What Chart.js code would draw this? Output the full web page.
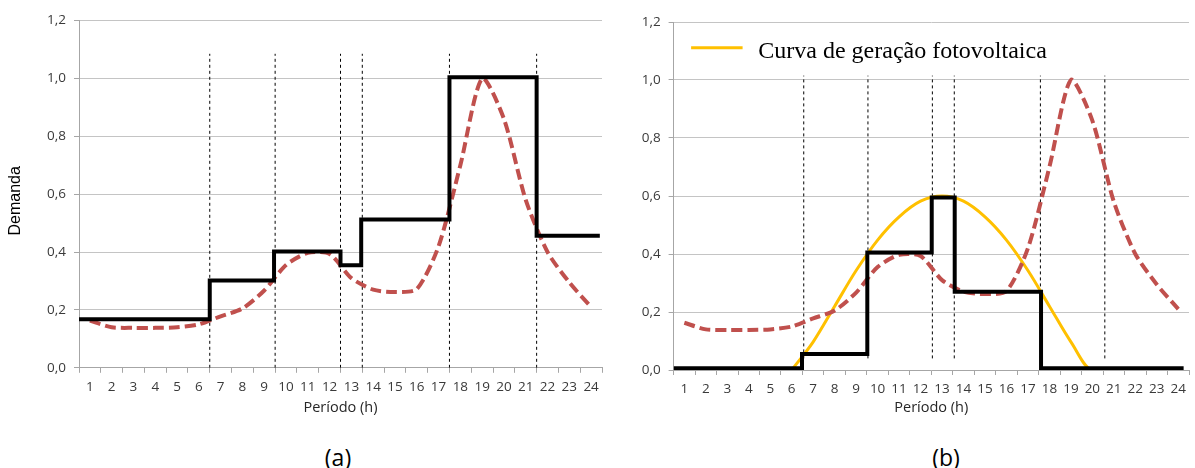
<!DOCTYPE html>
<html>
<head>
<meta charset="utf-8">
<script src="https://cdn.jsdelivr.net/npm/chart.js@4.4.1/dist/chart.umd.min.js"></script>
<style>
    body { margin: 0; background: #fff; width: 1195px; height: 468px; overflow: hidden; position: relative; }
    canvas { position: absolute; top: 0; }
    #graficoA { left: 0; }
    #graficoB { left: 600px; }
    .legenda { position: absolute; top: 442px; width: 100px; text-align: center;
               font-family: 'Open Sans', sans-serif; font-size: 23px; line-height: 30px; color: #000; }
</style>
</head>
<body>
<canvas id="graficoA" width="612" height="421"></canvas>
<canvas id="graficoB" width="595" height="421"></canvas>
<div class="legenda" style="left:288px">(a)</div>
<div class="legenda" style="left:896px">(b)</div>
<script>
// Dados (demanda normalizada por hora)
const horas = [1, 2, 3, 4, 5, 6, 7, 8, 9, 10, 11, 12, 13, 14, 15, 16, 17, 18, 19, 20, 21, 22, 23, 24];
const demanda = [0.163, 0.14, 0.138, 0.138, 0.14, 0.15, 0.178, 0.205, 0.267, 0.355, 0.397, 0.393,
                 0.31, 0.27, 0.262, 0.272, 0.42, 0.70, 1.0, 0.86, 0.58, 0.40, 0.295, 0.21];
const geracaoPV = [null, null, null, null, null, 0, 0.097, 0.22, 0.343, 0.448, 0.528, 0.582,
                   0.6, 0.582, 0.528, 0.448, 0.343, 0.22, 0.097, 0, 0, 0, 0, 0];

// Tarifa em degraus (a): inicio de cada patamar e valor
const degrauA_x = [0.5, 6.5, 9.45, 12.5, 13.45, 17.5, 21.5, 24.4];
const degrauA_y = [0.168, 0.302, 0.402, 0.354, 0.512, 1.004, 0.456, 0.456];
// Tarifa em degraus (b)
const degrauB_x = [0.5, 6.48, 9.52, 12.52, 13.59, 17.61, 24.25];
const degrauB_y = [0.006, 0.055, 0.405, 0.595, 0.27, 0.006, 0.006];

// Linhas verticais tracejadas (limites dos postos)
const limitesA = [6.5, 9.5, 12.5, 13.5, 17.5, 21.5];
const limitesA_faixa = [0, 1.085];
const limitesB = [6.56, 9.55, 12.55, 13.57, 17.58, 20.58];
const limitesB_faixa = [0.04, 1.015];

const yTicks = [0, 0.2, 0.4, 0.6, 0.8, 1.0, 1.2];
const rotuloPV = 'Curva de geração fotovoltaica';

Chart.defaults.font.family = "'Open Sans', sans-serif";
Chart.defaults.color = '#3a3a3a';

function pontosDegrau(xs, ys) {
    return xs.map((x, i) => ({ x: x, y: ys[i] }));
}

function pontosLimites(lista, faixa) {
    const pts = [];
    lista.forEach(x => {
        pts.push({ x: x, y: faixa[0] });
        pts.push({ x: x, y: faixa[1] });
        pts.push({ x: x, y: null });
    });
    return pts;
}

function ehInteiro(v) {
    return Math.abs(v - Math.round(v)) < 1e-6;
}

function criarEscalas(larguraY, alturaX, tituloY) {
    return {
        x: {
            type: 'linear',
            min: 0.5,
            max: 24.5,
            afterBuildTicks: scale => {
                const t = [];
                for (let v = 0.5; v <= 24.5; v += 0.5) t.push({ value: v });
                scale.ticks = t;
            },
            afterFit: scale => { scale.height = alturaX; },
            ticks: {
                autoSkip: false,
                maxRotation: 0,
                padding: 6,
                font: { size: 13.5 },
                color: '#3a3a3a',
                callback: v => ehInteiro(v) ? String(Math.round(v)) : ''
            },
            grid: {
                drawOnChartArea: false,
                tickLength: 5,
                tickColor: ctx => (ctx.tick && ehInteiro(ctx.tick.value)) ? 'rgba(0,0,0,0)' : '#a6a6a6'
            },
            border: { color: '#a6a6a6' },
            title: {
                display: true,
                text: 'Período (h)',
                font: { size: 14.5 },
                color: '#262626',
                padding: { top: 0, bottom: 4 }
            }
        },
        y: {
            min: 0,
            max: 1.2,
            afterBuildTicks: scale => { scale.ticks = yTicks.map(v => ({ value: v })); },
            afterFit: scale => { scale.width = larguraY; },
            ticks: {
                padding: 8,
                font: { size: 13.5 },
                color: '#3a3a3a',
                callback: v => v.toFixed(1).replace('.', ',')
            },
            grid: { color: '#c4c4c4', tickLength: 5, tickColor: '#a6a6a6' },
            border: { color: '#a6a6a6' },
            title: tituloY ? {
                display: true,
                text: tituloY,
                font: { family: "'Liberation Sans', Arial, sans-serif", size: 16 },
                color: '#000',
                padding: { top: 6, bottom: 0 }
            } : { display: false }
        }
    };
}

// Legenda desenhada dentro da area do grafico (b)
const legendaInterna = {
    id: 'legendaInterna',
    afterDatasetsDraw(chart) {
        const ds = chart.data.datasets.find(d => d.label === rotuloPV);
        if (!ds) return;
        const { ctx, chartArea } = chart;
        ctx.save();
        ctx.strokeStyle = ds.borderColor;
        ctx.lineWidth = 3;
        ctx.beginPath();
        ctx.moveTo(chartArea.left + 17.5, chartArea.top + 25.7);
        ctx.lineTo(chartArea.left + 69, chartArea.top + 25.7);
        ctx.stroke();
        ctx.fillStyle = '#000';
        ctx.font = "24px 'Liberation Serif', 'Times New Roman', serif";
        ctx.textBaseline = 'alphabetic';
        ctx.fillText(ds.label, chartArea.left + 84.7, chartArea.top + 36.3);
        ctx.restore();
    }
};

function conjuntoDemanda() {
    return {
        label: 'Demanda',
        data: demanda,
        borderColor: '#c0504d',
        borderWidth: 4,
        borderDash: [11, 5],
        tension: 0.25,
        pointRadius: 0,
        order: 1
    };
}

function conjuntoLimites(lista, faixa) {
    return {
        label: 'Limites',
        data: pontosLimites(lista, faixa),
        borderColor: '#000',
        borderWidth: 1,
        borderDash: [3, 3],
        pointRadius: 0,
        spanGaps: false,
        order: 3
    };
}

const opcoesBase = {
    responsive: false,
    animation: false,
    plugins: { legend: { display: false }, tooltip: { enabled: false } }
};

new Chart(document.getElementById('graficoA'), {
    type: 'line',
    data: {
        labels: horas,
        datasets: [
            {
                label: 'Tarifa',
                data: pontosDegrau(degrauA_x, degrauA_y),
                borderColor: '#000',
                borderWidth: 4,
                stepped: true,
                pointRadius: 0,
                order: 0
            },
            conjuntoDemanda(),
            conjuntoLimites(limitesA, limitesA_faixa)
        ]
    },
    options: Object.assign({}, opcoesBase, {
        layout: { padding: { left: 0, right: 10, top: 20.5, bottom: 0 } },
        scales: criarEscalas(79, 421 - 367.8, 'Demanda   ')
    })
});

new Chart(document.getElementById('graficoB'), {
    type: 'line',
    data: {
        labels: horas,
        datasets: [
            {
                label: 'Tarifa',
                data: pontosDegrau(degrauB_x, degrauB_y),
                borderColor: '#000',
                borderWidth: 4,
                stepped: true,
                pointRadius: 0,
                order: 0
            },
            conjuntoDemanda(),
            {
                label: rotuloPV,
                data: geracaoPV,
                borderColor: '#ffc000',
                borderWidth: 3,
                cubicInterpolationMode: 'monotone',
                pointRadius: 0,
                order: 2
            },
            conjuntoLimites(limitesB, limitesB_faixa)
        ]
    },
    options: Object.assign({}, opcoesBase, {
        layout: { padding: { left: 0, right: 0.6, top: 22, bottom: 0 } },
        scales: criarEscalas(73.6, 421 - 370, null)
    }),
    plugins: [legendaInterna]
});
</script>
</body>
</html>
